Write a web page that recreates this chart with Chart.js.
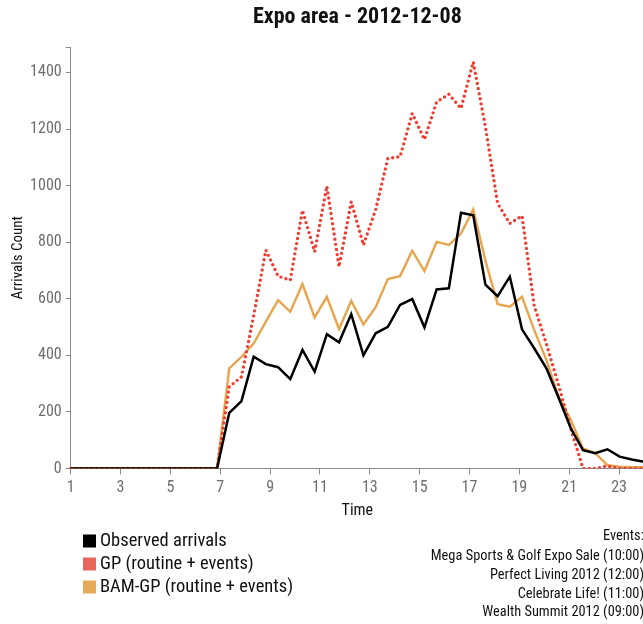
<!DOCTYPE html>
<html>
<head>
<meta charset="utf-8">
<script src="https://cdn.jsdelivr.net/npm/chart.js@4/dist/chart.umd.min.js"></script>
<style>
  html, body { margin: 0; padding: 0; background: #fff; overflow: hidden; width: 643px; height: 624px; }
  #wrap { width: 646px; height: 624px; }
</style>
</head>
<body>
<div id="wrap"><canvas id="c" width="646" height="624"></canvas></div>
<script>
// ---- data ----
const slots = [
  "00:00","00:30","01:00","01:30","02:00","02:30","03:00","03:30",
  "04:00","04:30","05:00","05:30","06:00","06:30","07:00","07:30",
  "08:00","08:30","09:00","09:30","10:00","10:30","11:00","11:30",
  "12:00","12:30","13:00","13:30","14:00","14:30","15:00","15:30",
  "16:00","16:30","17:00","17:30","18:00","18:30","19:00","19:30",
  "20:00","20:30","21:00","21:30","22:00","22:30","23:00","23:30"
];
const hourTicks = [1, 3, 5, 7, 9, 11, 13, 15, 17, 19, 21, 23];
const yTicks = [0, 200, 400, 600, 800, 1000, 1200, 1400];

const observed = [
  0, 0, 0, 0, 0, 0, 0, 0, 0, 0, 0, 0, 0,
  197, 238, 395, 369, 358, 316, 419, 342, 475, 446,
  546, 400, 478, 501, 578, 599, 499, 633, 637, 904,
  895, 650, 609, 678, 492, 425, 354, 250, 142, 65,
  54, 68, 42, 32, 24
];
const gp = [
  0, 0, 0, 0, 0, 0, 0, 0, 0, 0, 0, 0, 0,
  289, 324, 540, 772, 680, 666, 913, 766, 998, 713,
  943, 790, 915, 1096, 1102, 1255, 1163, 1296, 1323, 1273,
  1437, 1208, 937, 866, 893, 575, 440, 295, 140, 0,
  0, 9, 0, 0, 0
];
const bamgp = [
  0, 0, 0, 0, 0, 0, 0, 0, 0, 0, 0, 0, 0,
  354, 395, 442, 519, 595, 554, 652, 534, 607, 493,
  593, 509, 570, 670, 680, 770, 698, 801, 790, 831,
  916, 735, 581, 572, 607, 489, 383, 254, 171, 71,
  54, 12, 6, 5, 5
];
const seriesNames = ["Observed arrivals", "GP (routine + events)", "BAM-GP (routine + events)"];
const eventLines = [
  "Events:",
  "Mega Sports & Golf Expo Sale (10:00)",
  "Perfect Living 2012 (12:00)",
  "Celebrate Life! (11:00)",
  "Wealth Summit 2012 (09:00)"
];

// ---- style ----
const FAM = '"Roboto Condensed", "Liberation Sans Narrow", "Arial Narrow", "DejaVu Sans Condensed", Roboto, sans-serif';
const AXIS = '#8a8a8a';
const TICKTXT = '#6e6e6e';

const legendColors = ['#000000', '#e8675d', '#e6a957'];

const legendPlugin = {
  id: 'sideLegend',
  afterDraw(chart) {
    const ctx = chart.ctx;
    ctx.save();
    // series legend
    ctx.font = '18.5px ' + FAM;
    ctx.textBaseline = 'middle';
    ctx.textAlign = 'left';
    const rows = [541, 564, 587];
    chart.data.datasets.forEach((ds, i) => {
      ctx.fillStyle = legendColors[i];
      ctx.fillRect(83, rows[i] - 6.5, 13, 13);
      ctx.fillStyle = '#111';
      ctx.fillText(ds.label, 100, rows[i] + 0.5);
    });
    // events block
    ctx.font = '14.4px ' + FAM;
    ctx.textAlign = 'right';
    ctx.fillStyle = '#111';
    const ey = [536.5, 556, 575, 594, 612.5];
    eventLines.forEach((t, i) => ctx.fillText(t, 644, ey[i]));
    ctx.restore();
  }
};

new Chart(document.getElementById('c'), {
  type: 'line',
  data: {
    labels: slots,
    datasets: [
      {
        label: seriesNames[0], data: observed, xAxisID: 'x',
        borderColor: '#000', borderWidth: 2.5, pointRadius: 0, tension: 0
      },
      {
        label: seriesNames[1], data: gp, xAxisID: 'x',
        borderColor: '#ef3d31', borderWidth: 3.4, borderDash: [0, 5.2],
        borderCapStyle: 'round', pointRadius: 0, tension: 0
      },
      {
        label: seriesNames[2], data: bamgp, xAxisID: 'x',
        borderColor: '#e6a54e', borderWidth: 2.4, pointRadius: 0, tension: 0
      }
    ]
  },
  options: {
    responsive: false,
    animation: false,
    events: [],
    layout: { padding: { left: 0, right: 2, top: 0, bottom: 99.4 } },
    plugins: {
      legend: { display: false },
      tooltip: { enabled: false },
      title: {
        display: true,
        text: 'Expo area - 2012-12-08',
        fullSize: false,
        color: '#111',
        font: { family: FAM, size: 22, weight: 'bold', lineHeight: 1.2 },
        padding: { top: 4, bottom: 16.6 }
      }
    },
    scales: {
      x: {
        type: 'category',
        display: false
      },
      xh: {
        type: 'linear',
        position: 'bottom',
        min: 1, max: 24,
        afterBuildTicks: s => { s.ticks = hourTicks.map(v => ({ value: v })); },
        afterFit: s => { s.height = 56.1; },
        grid: { drawOnChartArea: false, color: AXIS, tickLength: 6, lineWidth: 1 },
        border: { color: AXIS, width: 1 },
        ticks: {
          color: TICKTXT, padding: 4, maxRotation: 0, autoSkip: false,
          font: { family: FAM, size: 16 },
          callback: v => String(v)
        },
        title: {
          display: true, text: 'Time', color: '#111',
          font: { family: FAM, size: 16 },
          padding: { top: 0, bottom: 4 }
        }
      },
      y: {
        type: 'linear',
        position: 'left',
        min: 0, max: 1490,
        afterBuildTicks: s => { s.ticks = yTicks.concat([1490]).map(v => ({ value: v })); },
        afterFit: s => { s.width = 70.7; },
        grid: { drawOnChartArea: false, color: AXIS, tickLength: 5, lineWidth: 1 },
        border: { color: AXIS, width: 1 },
        ticks: {
          color: TICKTXT, padding: 4,
          font: { family: FAM, size: 16 },
          callback: v => (yTicks.includes(v) ? String(v) : '')
        },
        title: {
          display: true, text: 'Arrivals Count', color: '#111',
          font: { family: FAM, size: 15 },
          padding: { top: 9, bottom: 0 }
        }
      }
    }
  },
  plugins: [legendPlugin]
});
</script>
</body>
</html>
